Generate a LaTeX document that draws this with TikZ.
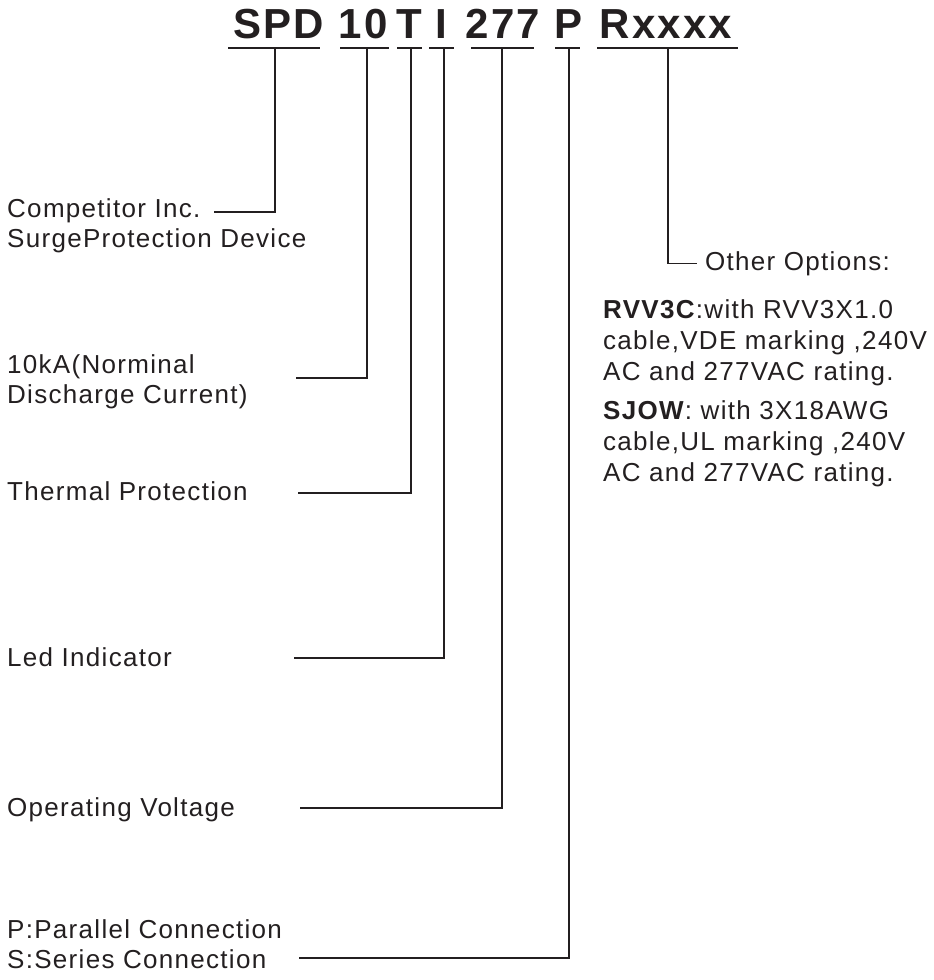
\documentclass[tikz,border=0pt]{standalone}
\usepackage{fontspec}
\setmainfont{Liberation Sans}[LetterSpace=5]
\definecolor{ink}{RGB}{35,31,32}
\tikzset{
  code/.style={anchor=base, inner sep=0pt, text=ink, font=\fontsize{42}{46}\selectfont\bfseries},
  lbl/.style={anchor=base west, inner sep=0pt, align=left, text=ink, font=\fontsize{26}{30}\selectfont},
  opts/.style={anchor=base west, inner sep=0pt, align=left, text=ink, font=\fontsize{26}{31}\selectfont},
  lead/.style={draw=ink, line width=1.2pt},
}

\begin{document}
\begin{tikzpicture}[x=1pt,y=-1pt]
\useasboundingbox (0,0) rectangle (934,980);

% type code
\node[code] (T1) at (279,38) {SPD};
\node[code] (T2) at (363,38) {10};
\node[code] (T3) at (409,38) {T};
\node[code] (T4) at (441,38) {I};
\node[code] (T5) at (503,38) {277};
\node[code] (T6) at (569,38) {P};
\node[code] (T7) at (666,38) {Rxxxx};

% underlines
\foreach \a/\b in {228/320,340/389,397/422,429/454,471/534,555/580,597/738}
  \draw[lead] (\a,48) -- (\b,48);

% stems
\coordinate (S1) at (275,48);
\coordinate (S2) at (367,48);
\coordinate (S3) at (411,48);
\coordinate (S4) at (444,48);
\coordinate (S5) at (502,48);
\coordinate (S6) at (569,48);
\coordinate (S7) at (668,48);

% labels (base = last line)
\node[lbl] (L1) at (7,247) {Competitor Inc.\\SurgeProtection Device};
\node[lbl] (L2) at (7,403) {10kA(Norminal\\Discharge Current)};
\node[lbl] (L3) at (7,500) {Thermal Protection};
\node[lbl] (L4) at (7,666) {Led Indicator};
\node[lbl] (L5) at (7,816) {Operating Voltage};
\node[lbl] (L6) at (7,968) {P:Parallel Connection\\S:Series Connection};
\node[lbl] (L7) at (705,270) {Other Options:};

\node[opts] (R1) at (603,481) {\textbf{RVV3C}:with RVV3X1.0\\cable,VDE marking ,240V\\AC and 277VAC rating.\\[8pt]\textbf{SJOW}: with 3X18AWG\\cable,UL marking ,240V\\AC and 277VAC rating.};

\coordinate (E1) at (214,212);
\coordinate (E2) at (296,378);
\coordinate (E3) at (298,493);
\coordinate (E4) at (294,658);
\coordinate (E5) at (300,808);
\coordinate (E6) at (299,958);

\draw[lead] (S1) |- (E1);
\draw[lead] (S2) |- (E2);
\draw[lead] (S3) |- (E3);
\draw[lead] (S4) |- (E4);
\draw[lead] (S5) |- (E5);
\draw[lead] (S6) |- (E6);
\draw[lead] (S7) |- ([xshift=-8pt]L7.west);
\end{tikzpicture}
\end{document}
